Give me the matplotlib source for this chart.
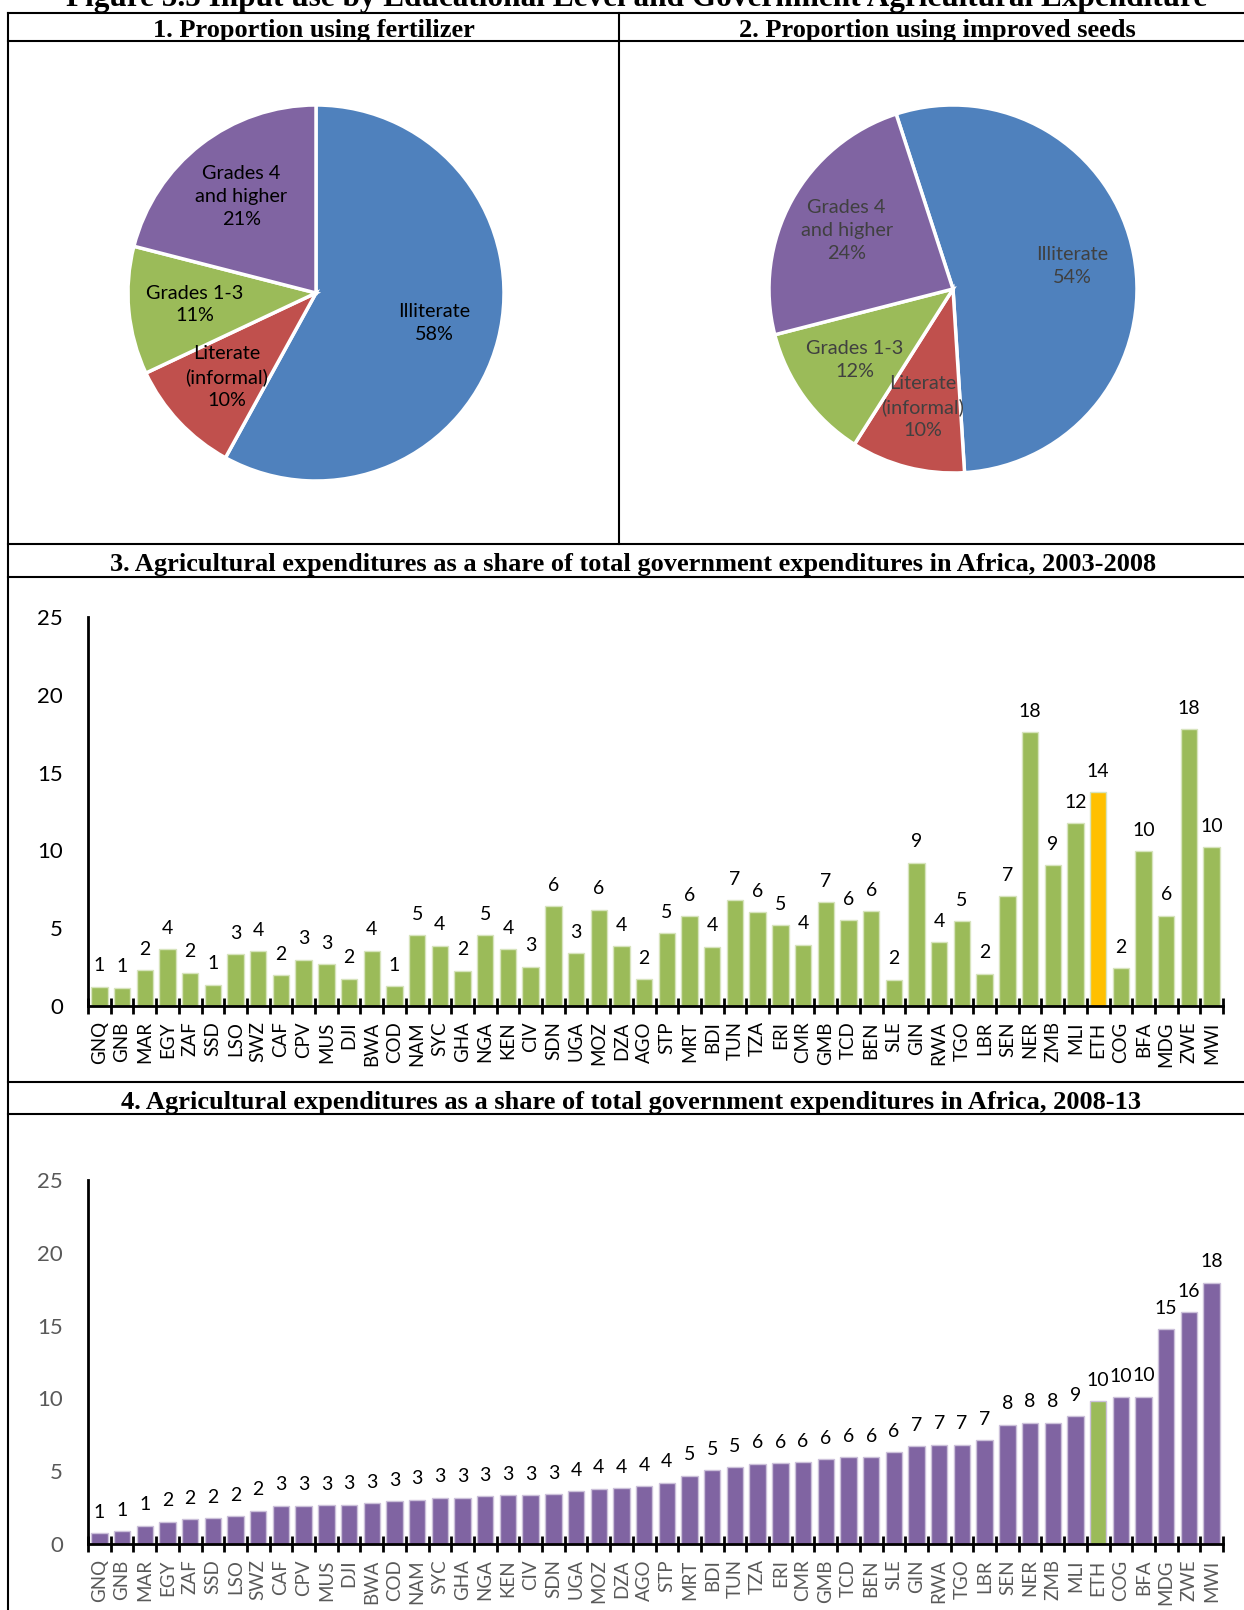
import matplotlib.pyplot as plt
import numpy as np
from matplotlib.lines import Line2D

plt.rcParams['font.family'] = ['Lato', 'DejaVu Sans']

W, H = 1244, 1610  # output size in pixels

# pie data
pie_labels = ['Illiterate', 'Literate\n(informal)', 'Grades 1-3', 'Grades 4\nand higher']
fert_share = [58, 10, 11, 21]
seed_share = [54, 10, 12, 24]
pie_colors = ['#4F81BD', '#C0504D', '#9BBB59', '#8064A2']

# bar data (share of total government expenditure, %)
countries = ['GNQ', 'GNB', 'MAR', 'EGY', 'ZAF', 'SSD', 'LSO', 'SWZ', 'CAF', 'CPV',
             'MUS', 'DJI', 'BWA', 'COD', 'NAM', 'SYC', 'GHA', 'NGA', 'KEN', 'CIV',
             'SDN', 'UGA', 'MOZ', 'DZA', 'AGO', 'STP', 'MRT', 'BDI', 'TUN', 'TZA',
             'ERI', 'CMR', 'GMB', 'TCD', 'BEN', 'SLE', 'GIN', 'RWA', 'TGO', 'LBR',
             'SEN', 'NER', 'ZMB', 'MLI', 'ETH', 'COG', 'BFA', 'MDG', 'ZWE', 'MWI']
share_0308 = [1.24, 1.18, 2.29, 3.64, 2.14, 1.37, 3.34, 3.52, 1.99, 2.98,
              2.68, 1.76, 3.55, 1.28, 4.56, 3.88, 2.27, 4.56, 3.66, 2.53,
              6.40, 3.38, 6.17, 3.83, 1.71, 4.67, 5.78, 3.81, 6.81, 6.04,
              5.18, 3.94, 6.68, 5.52, 6.10, 1.69, 9.21, 4.09, 5.46, 2.08,
              7.04, 17.60, 9.06, 11.73, 13.75, 2.42, 9.96, 5.80, 17.79, 10.19]
share_0813 = [0.73, 0.89, 1.26, 1.53, 1.69, 1.76, 1.92, 2.27, 2.63, 2.63,
              2.65, 2.70, 2.81, 2.93, 3.04, 3.16, 3.16, 3.27, 3.36, 3.36,
              3.41, 3.64, 3.80, 3.82, 3.96, 4.19, 4.69, 5.06, 5.26, 5.52,
              5.55, 5.63, 5.81, 5.95, 5.95, 6.29, 6.73, 6.80, 6.80, 7.12,
              8.19, 8.33, 8.33, 8.76, 9.82, 10.07, 10.11, 14.74, 15.90, 17.96]
highlight = 'ETH'

fig = plt.figure(figsize=(W / 100, H / 100), dpi=100)


def rect(left, top, right, bottom):
    return [left / W, 1 - bottom / H, (right - left) / W, (bottom - top) / H]


def hline(y, x0=8, x1=W):
    fig.add_artist(Line2D([x0 / W, x1 / W], [1 - y / H, 1 - y / H], color='black', lw=1.5))


def vline(x, y0, y1):
    fig.add_artist(Line2D([x / W, x / W], [1 - y0 / H, 1 - y1 / H], color='black', lw=1.5))


def header(text, x, y, size=19):
    fig.text(x / W, 1 - y / H, text, ha='center', va='center', fontsize=size,
             fontweight='bold', family='Liberation Serif')


# table frame
for y in [13, 41, 544, 577, 1082, 1114]:
    hline(y)
vline(8, 13, H)
vline(619, 13, 544)

# figure caption, cut by the top edge as in the source page
fig.text(637 / W, 1 - 6 / H,
         'Figure 5.5 Input use by Educational Level and Government Agricultural Expenditure',
         ha='center', va='baseline', fontsize=22.5, fontweight='bold', family='Liberation Serif')
header('1. Proportion using fertilizer', 314, 30)
header('2. Proportion using improved seeds', 937, 30)
header('3. Agricultural expenditures as a share of total government expenditures in Africa, 2003-2008', 633, 564)
header('4. Agricultural expenditures as a share of total government expenditures in Africa, 2008-13', 631, 1102)


def pie_panel(box, shares, start, txtcolor, dist):
    ax = fig.add_axes(box)
    wedges, texts = ax.pie(shares, labels=[f'{l}\n{s}%' for l, s in zip(pie_labels, shares)],
                           colors=pie_colors, startangle=start, counterclock=False,
                           labeldistance=dist,
                           wedgeprops=dict(edgecolor='white', linewidth=2.5),
                           textprops=dict(fontsize=14.3, color=txtcolor, linespacing=1.42))
    for t in texts:
        t.set_ha('center')
        t.set_va('center')
    ax.set_xlim(-1, 1)
    ax.set_ylim(-1, 1)
    return ax


pie_panel(rect(316 - 188, 293 - 188, 316 + 188, 293 + 188), fert_share, 90, 'black', 0.65)
pie_panel(rect(953 - 184, 289 - 184, 953 + 184, 289 + 184), seed_share, 108, '#404040', 0.66)


def bar_panel(box, values, colors, edge, txtcolor):
    ax = fig.add_axes(box)
    x = np.arange(len(countries))
    bars = ax.bar(x, values, width=0.72, color=colors, edgecolor=edge, linewidth=1)
    ax.bar_label(bars, labels=[f'{v:.0f}' for v in values], padding=9, fontsize=14, color='black')
    ax.set_xlim(-0.5, len(countries) - 0.5)
    ax.set_ylim(0, 25)
    ax.set_yticks(range(0, 26, 5))
    ax.tick_params(axis='y', length=0, pad=18, labelsize=16, labelcolor=txtcolor)
    ax.set_xticks(np.arange(-0.5, len(countries), 1))
    ax.set_xticklabels([])
    ax.set_xticks(x, minor=True)
    ax.set_xticklabels(countries, minor=True, rotation=90, fontsize=13.5, color=txtcolor)
    ax.tick_params(axis='x', which='major', direction='inout', length=12, width=2)
    ax.tick_params(axis='x', which='minor', length=0, pad=11)
    for s in ['top', 'right']:
        ax.spines[s].set_visible(False)
    for s in ['left', 'bottom']:
        ax.spines[s].set_linewidth(2)
    ax.set_facecolor('none')
    return ax


cols3 = ['#FFC000' if c == highlight else '#9BBB59' for c in countries]
bar_panel(rect(88, 617, 1223, 1006), share_0308, cols3, '#D7E4BD', 'black')

cols4 = ['#9BBB59' if c == highlight else '#8064A2' for c in countries]
bar_panel(rect(88, 1180, 1223, 1544), share_0813, cols4, '#CCC1DA', '#595959')

fig.savefig('out.png', dpi=100)
